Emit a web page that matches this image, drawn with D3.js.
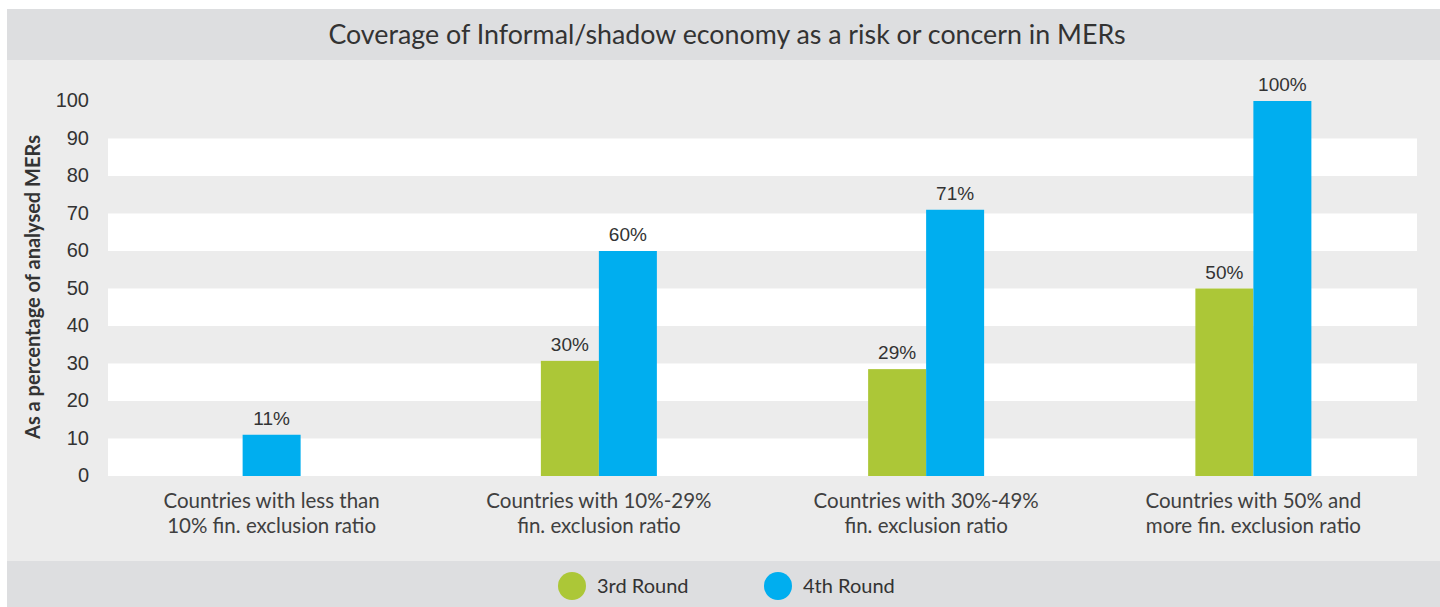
<!DOCTYPE html>
<html>
<head>
<meta charset="utf-8">
<script src="https://cdn.jsdelivr.net/npm/d3@7"></script>
<style>
  body { margin: 0; background: #ffffff; }
  svg { display: block; }
</style>
</head>
<body>
<div id="chart"></div>
<script>
// data
let categories = [
  ["Countries with less than", "10% fin. exclusion ratio"],
  ["Countries with 10%-29%", "fin. exclusion ratio"],
  ["Countries with 30%-49%", "fin. exclusion ratio"],
  ["Countries with 50% and", "more fin. exclusion ratio"]
];
let seriesNames = ["3rd Round", "4th Round"];
let round3 = [null, 30.7, 28.5, 50];
let round4 = [11, 60, 71, 100];
let round3Labels = ["", "30%", "29%", "50%"];
let round4Labels = ["11%", "60%", "71%", "100%"];
let yTicks = [0, 10, 20, 30, 40, 50, 60, 70, 80, 90, 100];

let W = 1440, H = 607;
let colors = ["#acc737", "#00aeef"];
let catFont = "Lato, 'Open Sans', sans-serif";
let numFont = "'Liberation Sans', Arial, sans-serif";

let svg = d3.select("#chart").append("svg")
  .attr("width", W)
  .attr("height", H);

// panel pieces
svg.append("rect").attr("x", 7).attr("y", 9).attr("width", W - 7).attr("height", 51).attr("fill", "#dddee0");
svg.append("rect").attr("x", 7).attr("y", 60).attr("width", W - 7).attr("height", 501).attr("fill", "#ececec");
svg.append("rect").attr("x", 7).attr("y", 561).attr("width", W - 7).attr("height", H - 561).attr("fill", "#dddee0");

svg.append("text")
  .attr("x", 727).attr("y", 44)
  .attr("text-anchor", "middle")
  .attr("font-family", catFont)
  .attr("font-size", 26.8)
  .attr("fill", "#333")
  .text("Coverage of Informal/shadow economy as a risk or concern in MERs");

// scales
let plotLeft = 108, plotRight = 1417;
let yScale = d3.scaleLinear().domain([0, 100]).range([476, 101]);
let xScale = d3.scaleBand().domain(d3.range(categories.length)).range([plotLeft, plotRight]);
let barW = 58;

// white stripes
svg.append("g").selectAll("rect")
  .data(yTicks.filter((t, i) => i % 2 == 0 && t < 100))
  .enter().append("rect")
  .attr("x", plotLeft)
  .attr("width", plotRight - plotLeft)
  .attr("y", d => yScale(d + 10))
  .attr("height", d => yScale(d) - yScale(d + 10))
  .attr("fill", "#ffffff");

// y axis
let yAxis = d3.axisLeft(yScale).tickValues(yTicks).tickSize(0).tickPadding(0);
let yAxisGroup = svg.append("g")
  .attr("transform", "translate(89,0)")
  .call(yAxis);
yAxisGroup.select(".domain").remove();
yAxisGroup.selectAll("text")
  .attr("font-family", numFont)
  .attr("font-size", 20)
  .attr("fill", "#333")
  .attr("dy", "0.28em");

svg.append("text")
  .attr("transform", "translate(40,287) rotate(-90)")
  .attr("text-anchor", "middle")
  .attr("font-family", catFont)
  .attr("font-weight", 700)
  .attr("font-size", 20)
  .attr("fill", "#333")
  .text("As a percentage of analysed MERs");

// bars
let barData = [];
categories.forEach(function(c, i) {
  let center = xScale(i) + xScale.bandwidth() / 2;
  if (round3[i] == null) {
    barData.push({ v: round4[i], label: round4Labels[i], s: 1, x: center - barW / 2 });
  } else {
    barData.push({ v: round3[i], label: round3Labels[i], s: 0, x: center - barW });
    barData.push({ v: round4[i], label: round4Labels[i], s: 1, x: center });
  }
});

svg.append("g").selectAll("rect")
  .data(barData)
  .enter().append("rect")
  .attr("x", d => d.x)
  .attr("width", barW)
  .attr("y", d => yScale(d.v))
  .attr("height", d => yScale(0) - yScale(d.v))
  .attr("fill", d => colors[d.s]);

svg.append("g").selectAll("text")
  .data(barData)
  .enter().append("text")
  .attr("x", d => d.x + barW / 2)
  .attr("y", d => yScale(d.v) - 10)
  .attr("text-anchor", "middle")
  .attr("font-family", numFont)
  .attr("font-size", 19)
  .attr("fill", "#333")
  .text(d => d.label);

// category labels
let catGroup = svg.append("g").selectAll("text")
  .data(categories)
  .enter().append("text")
  .attr("text-anchor", "middle")
  .attr("font-family", catFont)
  .attr("font-size", 20.5)
  .attr("fill", "#404040");
catGroup.each(function(d, i) {
  let t = d3.select(this);
  let cx = xScale(i) + xScale.bandwidth() / 2;
  d.forEach(function(line, j) {
    t.append("tspan").attr("x", cx).attr("y", 508 + j * 25).text(line);
  });
});

// legend
let legendX = [572, 778];
let legend = svg.append("g").selectAll("g")
  .data(seriesNames)
  .enter().append("g")
  .attr("transform", (d, i) => "translate(" + legendX[i] + ",586)");
legend.append("circle").attr("r", 14).attr("fill", (d, i) => colors[i]);
legend.append("text")
  .attr("x", 25)
  .attr("y", 7)
  .attr("font-family", catFont)
  .attr("font-size", 20)
  .attr("fill", "#333")
  .text(d => d);
</script>
</body>
</html>
